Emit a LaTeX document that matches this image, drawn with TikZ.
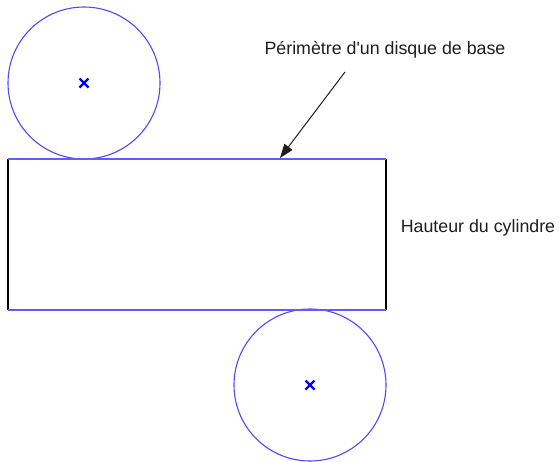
\documentclass[tikz,border=0pt]{standalone}
\usepackage{fontspec}
\setmainfont{Liberation Sans}[Ligatures=TeXOff]
\usetikzlibrary{arrows.meta}
\definecolor{circblue}{RGB}{85,70,255}
\definecolor{edgeblue}{RGB}{100,90,255}
\definecolor{crossblue}{RGB}{0,0,255}
\definecolor{txt}{RGB}{30,30,30}
\begin{document}
\begin{tikzpicture}[x=1pt,y=-1pt,
  disk/.style={draw=circblue,line width=1.1pt,circle,minimum size=152pt,inner sep=0pt},
  label/.style={font=\fontsize{17.8}{20}\selectfont,text=txt,inner sep=0pt},
  crossmark/.style={draw=crossblue,line width=2.2pt}]
\useasboundingbox (0,0) rectangle (560,461);
\node[disk] (c1) at (84,83) {};
\node[disk] (c2) at (310,385) {};
\coordinate (tl) at (8,159);
\coordinate (tr) at (386,159);
\coordinate (bl) at (8,310);
\coordinate (br) at (386,310);
\draw[line width=1.4pt,black] (tl) -- (bl);
\draw[line width=1.4pt,black] (tr) -- (br);
\draw[line width=1.2pt,edgeblue] (tl) -- (tr);
\draw[line width=1.2pt,edgeblue] (bl) -- (br);
\foreach \c in {c1,c2}{
  \draw[crossmark] ([shift={(-4.5,-4.5)}]\c.center) -- ([shift={(4.5,4.5)}]\c.center);
  \draw[crossmark] ([shift={(-4.5,4.5)}]\c.center) -- ([shift={(4.5,-4.5)}]\c.center);
}
\node[label] (p) at (385,50) {Périmètre d'un disque de base};
\node[label] (h) at (478,228) {Hauteur du cylindre};
\coordinate (a0) at (345,72);
\coordinate (a1) at (280,158);
\draw[line width=1pt,txt,-{Triangle[length=14pt,width=10pt]}] (a0) -- (a1);
\end{tikzpicture}
\end{document}
